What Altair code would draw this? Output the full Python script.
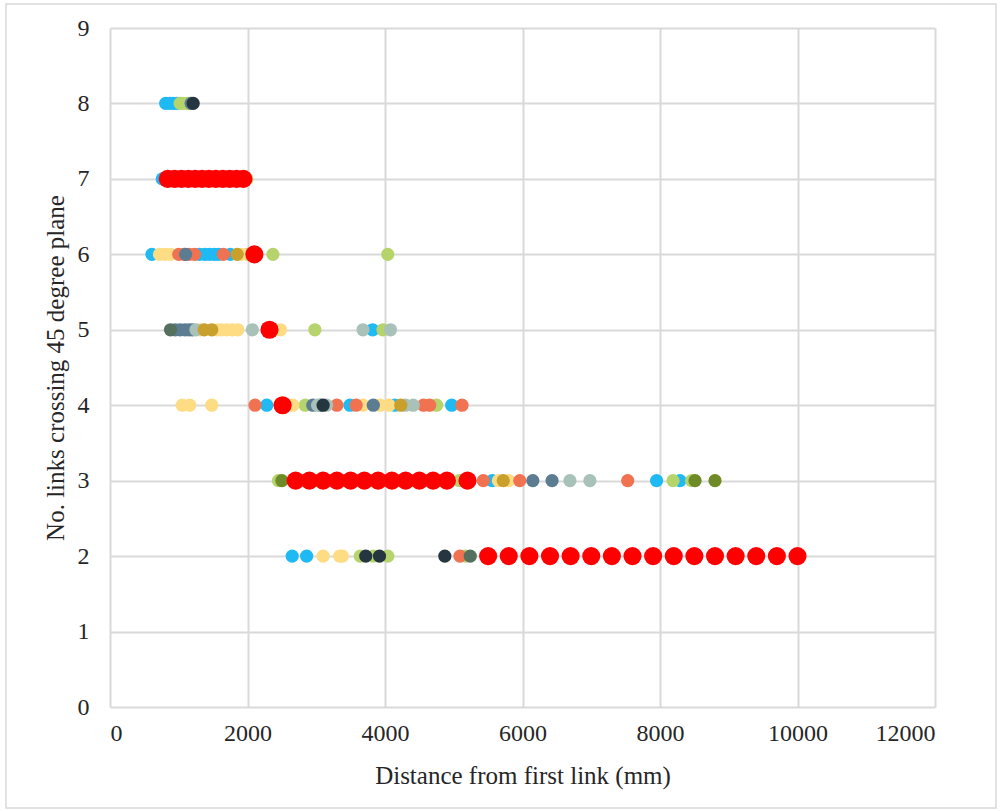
import altair as alt
import pandas as pd

# Link positions along the specimen (mm) and the number of links crossing
# the 45 degree plane, one pair of lists per specimen.
s1_dist = [810, 870, 920, 970, 760, 610, 1300, 1380, 1450, 1520, 1580, 1750, 3820,
           2280, 3490, 4140, 4970, 5560, 7950, 8290, 2650, 2860]
s1_links = [8, 8, 8, 8, 7, 6, 6, 6, 6, 6, 6, 6, 5,
            4, 4, 4, 4, 3, 3, 3, 2, 2]

s2_dist = [1020, 1060, 1120, 1160, 1990, 2010, 2370, 4040, 2980, 3970,
           2840, 4750, 2450, 5080, 8190, 8460, 3640, 3830, 4040, 5170]
s2_links = [8, 8, 8, 8, 7, 6, 6, 6, 5, 5,
            4, 4, 3, 3, 3, 3, 2, 2, 2, 2]

s3_dist = [720, 800, 880, 1920, 1310, 1560, 1620, 1700, 1780, 1860, 2480,
           1050, 1160, 1480, 2660, 3680, 3930, 4060, 5650, 5800, 3100, 3340, 3380]
s3_links = [6, 6, 6, 6, 5, 5, 5, 5, 5, 5, 5,
            4, 4, 4, 4, 4, 4, 4, 3, 3, 2, 2, 2]

s4_dist = [1000, 1080, 1150, 1230, 1650, 2110, 3300, 3580, 4560, 4650, 5120,
           5430, 5960, 7530, 5090]
s4_links = [6, 6, 6, 6, 6, 4, 4, 4, 4, 4, 4,
            3, 3, 3, 2]

s5_dist = [1180, 1100, 950, 1020, 1090, 1150, 1200, 2950, 3060, 3830, 6150, 6430]
s5_links = [8, 6, 5, 5, 5, 5, 5, 4, 4, 4, 3, 3]

s6_dist = [1250, 2070, 3680, 4080, 3020, 3150, 4300, 4410, 6690, 6980]
s6_links = [5, 5, 5, 5, 4, 4, 4, 4, 3, 3]

s7_dist = [1210, 3100, 3720, 3920, 4870]
s7_links = [8, 4, 2, 2, 2]

s8_dist = [2500, 8510, 8800]
s8_links = [3, 3, 3]

s9_dist = [1850, 1370, 1480, 4230, 5720]
s9_links = [6, 5, 5, 4, 3]

s10_dist = [880, 5240]
s10_links = [5, 2]

s11_dist = [840, 940, 1040, 1140, 1240, 1340, 1440, 1540, 1640, 1740, 1840, 1940,
            2100, 2320, 2510,
            2700, 2900, 3100, 3300, 3500, 3700, 3900, 4100, 4300, 4500, 4700, 4900, 5200,
            5500, 5800, 6100, 6400, 6700, 7000, 7300, 7600, 7900, 8200, 8500, 8800,
            9100, 9400, 9700, 10000]
s11_links = [7] * 12 + [6, 5, 4] + [3] * 13 + [2] * 16

series_names = ["S1", "S2", "S3", "S4", "S5", "S6", "S7", "S8", "S9", "S10", "S11"]
series_colors = ["#1FB9F4", "#B5D46C", "#FDDC84", "#F07251", "#5C7C92", "#A8C1B9",
                 "#263640", "#6F8B27", "#C9A02B", "#56705F", "#FF0000"]
series_sizes = [175, 175, 175, 175, 175, 175, 175, 175, 175, 175, 330]

all_dist = [s1_dist, s2_dist, s3_dist, s4_dist, s5_dist, s6_dist,
            s7_dist, s8_dist, s9_dist, s10_dist, s11_dist]
all_links = [s1_links, s2_links, s3_links, s4_links, s5_links, s6_links,
             s7_links, s8_links, s9_links, s10_links, s11_links]

rows = []
for i, (name, xs, ys) in enumerate(zip(series_names, all_dist, all_links)):
    for x, y in zip(xs, ys):
        rows.append({"distance": x, "links": y, "series": name, "order": i,
                     "msize": series_sizes[i]})
df = pd.DataFrame(rows)

font = "Liberation Serif"

points = alt.Chart(df).mark_circle(opacity=1, strokeWidth=0).encode(
    x=alt.X("distance:Q",
            scale=alt.Scale(domain=[0, 12000], nice=False),
            axis=alt.Axis(values=list(range(0, 12001, 2000)), format="d",
                          title="Distance from first link (mm)",
                          titleY=68, titleBaseline="middle", labelPadding=14)),
    y=alt.Y("links:Q",
            scale=alt.Scale(domain=[0, 9], nice=False),
            axis=alt.Axis(values=list(range(0, 10)), format="d",
                          title="No. links crossing 45 degree plane",
                          titleX=-55, titleBaseline="middle", labelPadding=21)),
    color=alt.Color("series:N",
                    scale=alt.Scale(domain=series_names, range=series_colors),
                    legend=None),
    size=alt.Size("msize:Q", scale=None, legend=None),
    order=alt.Order("order:Q"),
)

# Light frame around the whole figure
frame = alt.Chart(pd.DataFrame({"k": [0]})).mark_rect(
    fill=None, stroke="#D9D9D9", strokeWidth=1.5
).encode(
    x=alt.value(-104), x2=alt.value(886),
    y=alt.value(-24), y2=alt.value(780),
)

chart = alt.layer(points, frame).properties(
    width=825,
    height=679,
    autosize="none",
    padding={"left": 110, "top": 28, "right": 65, "bottom": 104},
).configure_view(
    stroke=None
).configure_axis(
    grid=True,
    gridColor="#D9D9D9",
    gridWidth=2,
    domain=False,
    ticks=False,
    labelFont=font,
    labelFontSize=24,
    labelColor="#262626",
    titleFont=font,
    titleFontSize=25,
    titleFontWeight="normal",
    titleColor="#262626",
)

chart.save("out.html", embed_options={"renderer": "svg", "actions": False})
